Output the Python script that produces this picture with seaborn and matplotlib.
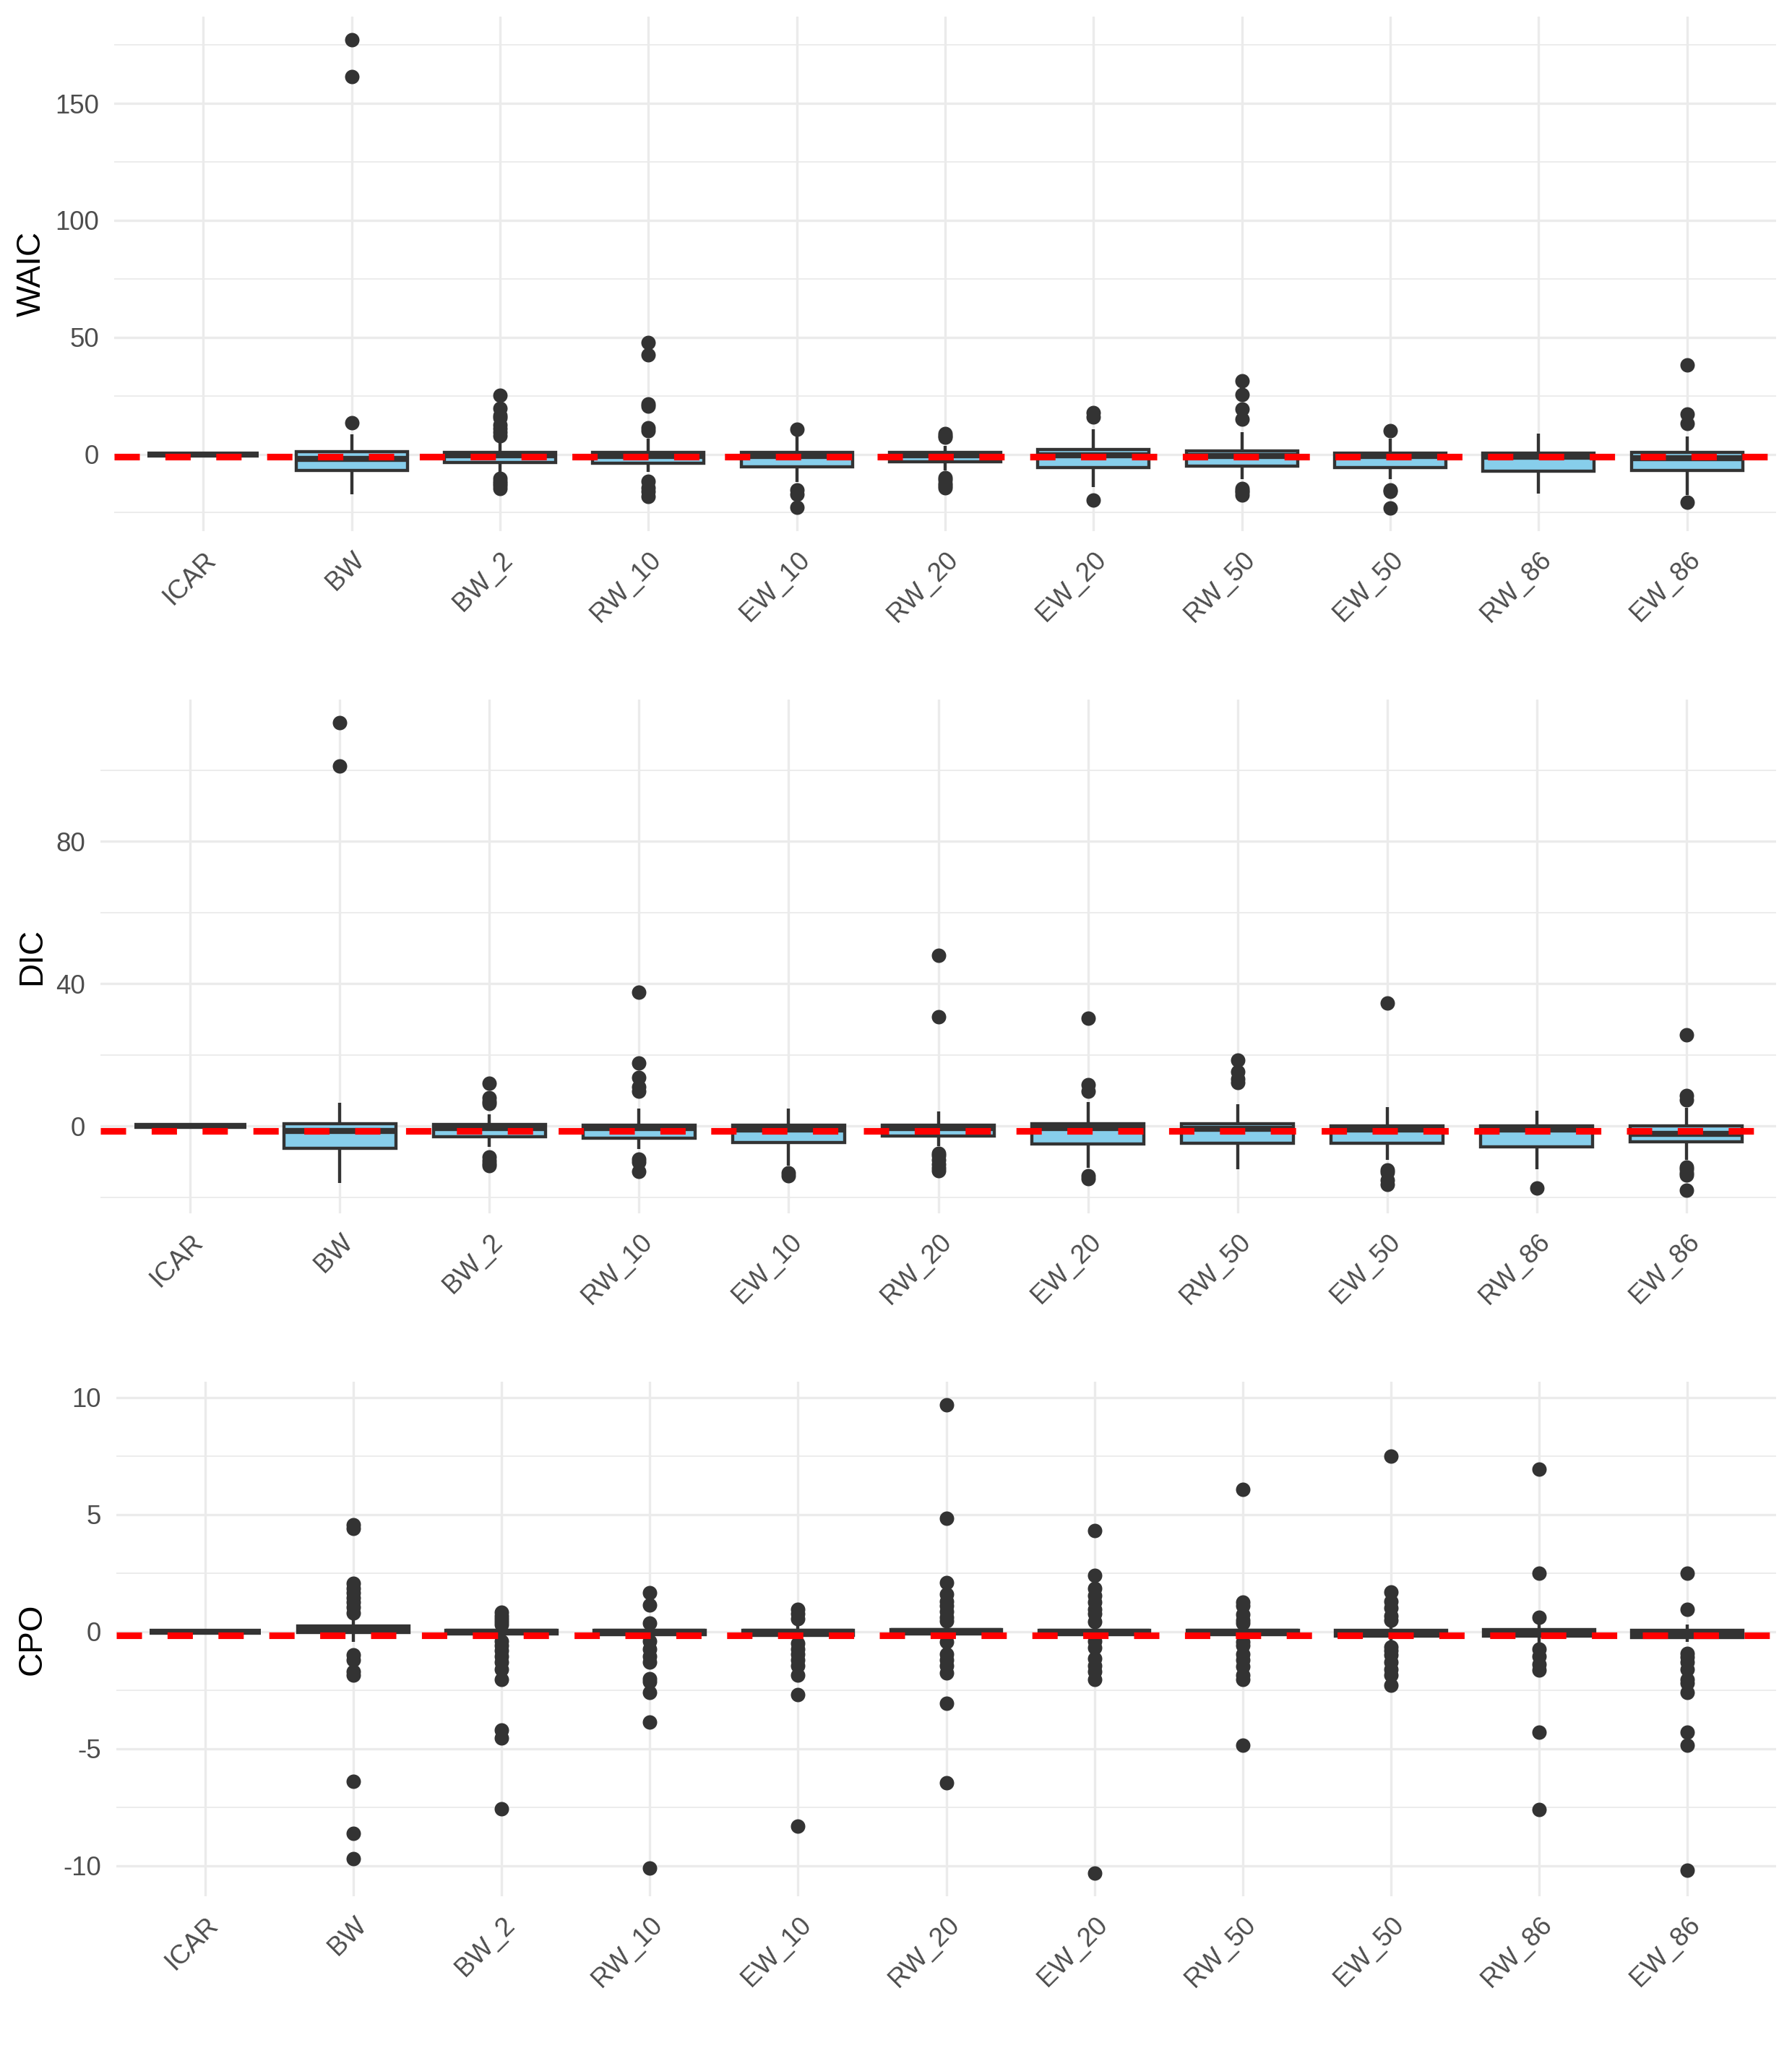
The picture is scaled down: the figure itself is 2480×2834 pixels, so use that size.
import numpy as np
import pandas as pd
import matplotlib
matplotlib.use("Agg")
import matplotlib.pyplot as plt
from matplotlib.ticker import FixedLocator, NullLocator
import seaborn as sns

# ---------------- data ----------------
models = ["ICAR", "BW", "BW_2", "RW_10", "EW_10", "RW_20",
          "EW_20", "RW_50", "EW_50", "RW_86", "EW_86"]

# WAIC differences: box summary per model
waic_q1 = [0, -7.0, -3.5, -4.0, -5.5, -3.3, -5.6, -5.0, -5.8, -7.2, -7.0]
waic_median = [0, -2.0, -0.4, -0.9, -0.9, -0.5, -0.4, -0.7, -0.9, -1.0, -1.7]
waic_q3 = [0, 1.0, 0.9, 0.7, 0.9, 0.8, 2.1, 1.3, 0.4, 0.4, 0.9]
waic_whisker_low = [0, -17.0, -8.5, -7.5, -11.8, -7.0, -14.2, -10.8, -10.8, -16.8, -17.5]
waic_whisker_high = [0, 8.4, 5.5, 6.7, 7.7, 3.5, 10.8, 9.3, 6.7, 8.7, 7.7]
waic_outliers = [
    [],
    [13.3, 161.3, 177.1],
    [8.0, 9.5, 11.0, 12.5, 15.5, 16.5, 19.5, 25.2, -10.4, -11.5, -12.5, -13.5, -14.7],
    [10.0, 11.3, 20.5, 21.5, 42.4, 47.9, -11.5, -14.4, -16.0, -18.0],
    [10.8, -15.4, -17.0, -22.6],
    [7.4, 8.0, 8.7, -10.0, -11.0, -12.5, -13.5, -14.4],
    [16.0, 17.7, -19.7],
    [14.9, 19.4, 25.4, 31.4, -14.8, -15.5, -16.3, -17.3],
    [9.9, -15.3, -16.0, -22.9],
    [],
    [13.0, 17.2, 38.1, -20.6],
]
waic_reference = -1.05

# DIC differences
dic_q1 = [0, -6.2, -3.0, -3.4, -4.6, -2.7, -5.0, -4.7, -4.7, -5.8, -4.4]
dic_median = [0, -1.3, -0.6, -0.6, -0.9, -0.5, -0.5, -0.8, -0.9, -0.9, -2.2]
dic_q3 = [0, 0.8, 0.6, 0.4, 0.3, 0.4, 0.8, 0.8, 0.2, 0.2, 0.2]
dic_whisker_low = [0, -15.9, -5.7, -6.3, -11.0, -5.5, -11.7, -12.1, -9.4, -12.1, -9.4]
dic_whisker_high = [0, 6.5, 3.3, 4.9, 4.9, 4.1, 6.8, 6.1, 5.3, 4.4, 5.1]
dic_outliers = [
    [],
    [101.2, 113.3],
    [6.3, 7.1, 8.1, 12.0, -8.7, -9.7, -10.4, -11.0],
    [9.8, 11.0, 13.8, 17.8, 37.7, -9.3, -10.0, -12.7],
    [-13.0, -14.0],
    [30.7, 48.1, -7.6, -8.3, -9.4, -10.7, -11.6, -12.4],
    [9.9, 11.6, 30.4, -14.0, -14.8],
    [12.2, 13.2, 15.4, 18.6],
    [34.7, -12.3, -12.8, -15.1, -16.4],
    [-17.4],
    [7.5, 8.6, 25.7, -11.5, -12.1, -13.0, -13.7, -17.9],
]
dic_reference = -1.4

# CPO differences
cpo_q1 = [0, -0.05, -0.1, -0.12, -0.15, -0.1, -0.12, -0.12, -0.2, -0.2, -0.25]
cpo_median = [0, 0.12, 0.0, -0.02, 0.0, 0.03, 0.0, 0.0, -0.03, 0.0, -0.08]
cpo_q3 = [0, 0.25, 0.05, 0.05, 0.05, 0.1, 0.05, 0.05, 0.05, 0.1, 0.05]
cpo_whisker_low = [0, -0.45, -0.3, -0.3, -0.4, -0.35, -0.35, -0.35, -0.5, -0.5, -0.45]
cpo_whisker_high = [0, 0.6, 0.2, 0.25, 0.3, 0.35, 0.25, 0.25, 0.35, 0.4, 0.3]
cpo_outliers = [
    [],
    [0.8, 1.05, 1.25, 1.45, 1.65, 1.85, 2.05, 4.4, 4.55, -1.0, -1.2, -1.7, -1.85, -6.4, -8.6, -9.7],
    [0.3, 0.42, 0.55, 0.68, 0.82, -0.4, -0.6, -0.8, -1.05, -1.3, -1.6, -2.05, -4.2, -4.55, -7.55],
    [0.35, 1.15, 1.65, -0.4, -0.75, -1.05, -1.3, -2.0, -2.15, -2.6, -3.85, -10.1],
    [0.55, 0.75, 0.95, -0.5, -0.75, -0.95, -1.2, -1.45, -1.85, -2.7, -8.3],
    [0.45, 0.6, 0.85, 1.1, 1.3, 1.6, 2.1, 4.85, 9.67, -0.45, -0.95, -1.2, -1.45, -1.75, -3.05, -6.45],
    [0.42, 0.75, 0.95, 1.27, 1.55, 1.85, 2.4, 4.3, -0.4, -0.7, -1.15, -1.45, -1.7, -2.05, -10.3],
    [0.35, 0.5, 0.72, 1.1, 1.27, 6.08, -0.45, -0.6, -0.95, -1.2, -1.5, -1.85, -2.05, -4.84],
    [0.5, 0.67, 1.0, 1.3, 1.7, 7.5, -0.65, -0.8, -1.0, -1.3, -1.6, -1.85, -2.3],
    [0.62, 2.48, 6.93, -0.75, -1.05, -1.39, -1.65, -4.3, -7.6],
    [0.95, 2.48, -0.92, -1.1, -1.3, -1.6, -2.05, -2.2, -2.6, -4.3, -4.85, -10.2],
]
cpo_reference = -0.15

# axis ticks
waic_major = [0, 50, 100, 150]
waic_minor = [-25, 25, 75, 125, 175]
dic_major = [0, 40, 80]
dic_minor = [-20, 20, 60, 100]
cpo_major = [-10, -5, 0, 5, 10]
cpo_minor = [-7.5, -2.5, 2.5, 7.5]


def sample_from_summary(q1, med, q3, lo, hi, outs, k=40):
    """Rebuild a sample whose box statistics equal the read-off summary."""
    rows = []
    for m, a, b, c, l, h, o in zip(models, q1, med, q3, lo, hi, outs):
        vals = [l] + [a] * k + [b] * k + [c] * k + [h] + list(o)
        rows.extend((m, v) for v in vals)
    return pd.DataFrame(rows, columns=["model", "value"])


panels = [
    ("WAIC", sample_from_summary(waic_q1, waic_median, waic_q3, waic_whisker_low,
                                 waic_whisker_high, waic_outliers),
     waic_reference, waic_major, waic_minor),
    ("DIC", sample_from_summary(dic_q1, dic_median, dic_q3, dic_whisker_low,
                                dic_whisker_high, dic_outliers),
     dic_reference, dic_major, dic_minor),
    ("CPO", sample_from_summary(cpo_q1, cpo_median, cpo_q3, cpo_whisker_low,
                                cpo_whisker_high, cpo_outliers),
     cpo_reference, cpo_major, cpo_minor),
]

# ---------------- styling / layout ----------------
sns.set_style("white")
plt.rcParams["font.family"] = ["Liberation Sans", "DejaVu Sans"]

W, H = 2480, 2834
fig = plt.figure(figsize=(W / 300, H / 300), dpi=300)
fig.patch.set_facecolor("white")

# panel rectangles in pixels: left, top, right, bottom
rects = [(158, 23, 2458, 735), (139, 968, 2458, 1679), (161, 1912, 2458, 2624)]
label_x_px = [44, 44, 45]

grid_col = "#EBEBEB"
dark = "#333333"
lw_box = 1.05

for (name, df, ref, major, minor), (l, t, r, b), lx in zip(panels, rects, label_x_px):
    ax = fig.add_axes([l / W, 1 - b / H, (r - l) / W, (b - t) / H])
    sns.boxplot(data=df, x="model", y="value", order=models, ax=ax,
                color="#87CEEB", saturation=1, width=0.75,
                linecolor=dark, linewidth=lw_box, whis=1.5, showcaps=False,
                fliersize=4.8,
                flierprops=dict(marker="o", markerfacecolor=dark,
                                markeredgecolor=dark, markeredgewidth=0),
                medianprops=dict(color=dark, linewidth=2.0),
                whiskerprops=dict(color=dark, linewidth=lw_box),
                boxprops=dict(edgecolor=dark, linewidth=lw_box))
    ax.axhline(ref, color="red", linestyle=(0, (3.82, 3.86)), linewidth=2.2, zorder=10)

    vmin, vmax = df["value"].min(), df["value"].max()
    span = vmax - vmin
    ax.set_ylim(vmin - 0.05 * span, vmax + 0.05 * span)
    ax.set_xlim(-0.6, len(models) - 0.4)

    ax.yaxis.set_major_locator(FixedLocator(major))
    ax.yaxis.set_minor_locator(FixedLocator(minor))
    ax.xaxis.set_minor_locator(NullLocator())
    ax.set_yticklabels([f"{v:g}" for v in major])

    ax.set_axisbelow(True)
    ax.grid(True, which="major", color=grid_col, linewidth=0.8)
    ax.grid(True, which="minor", axis="y", color=grid_col, linewidth=0.45)
    for s in ax.spines.values():
        s.set_visible(False)
    ax.set_facecolor("white")

    ax.tick_params(axis="both", which="both", length=0, labelsize=8.8,
                   labelcolor="#4D4D4D")
    ax.tick_params(axis="x", pad=5.3)
    ax.tick_params(axis="y", pad=5.1)
    for lbl in ax.get_xticklabels():
        lbl.set_rotation(45)
        lbl.set_ha("right")
        lbl.set_va("top")
        lbl.set_rotation_mode("anchor")

    ax.set_xlabel("")
    ax.set_ylabel(name, fontsize=11, color="black", va="center")
    ax.yaxis.set_label_coords((lx - l) / (r - l), 0.5)

fig.savefig("out.png", dpi=300)
